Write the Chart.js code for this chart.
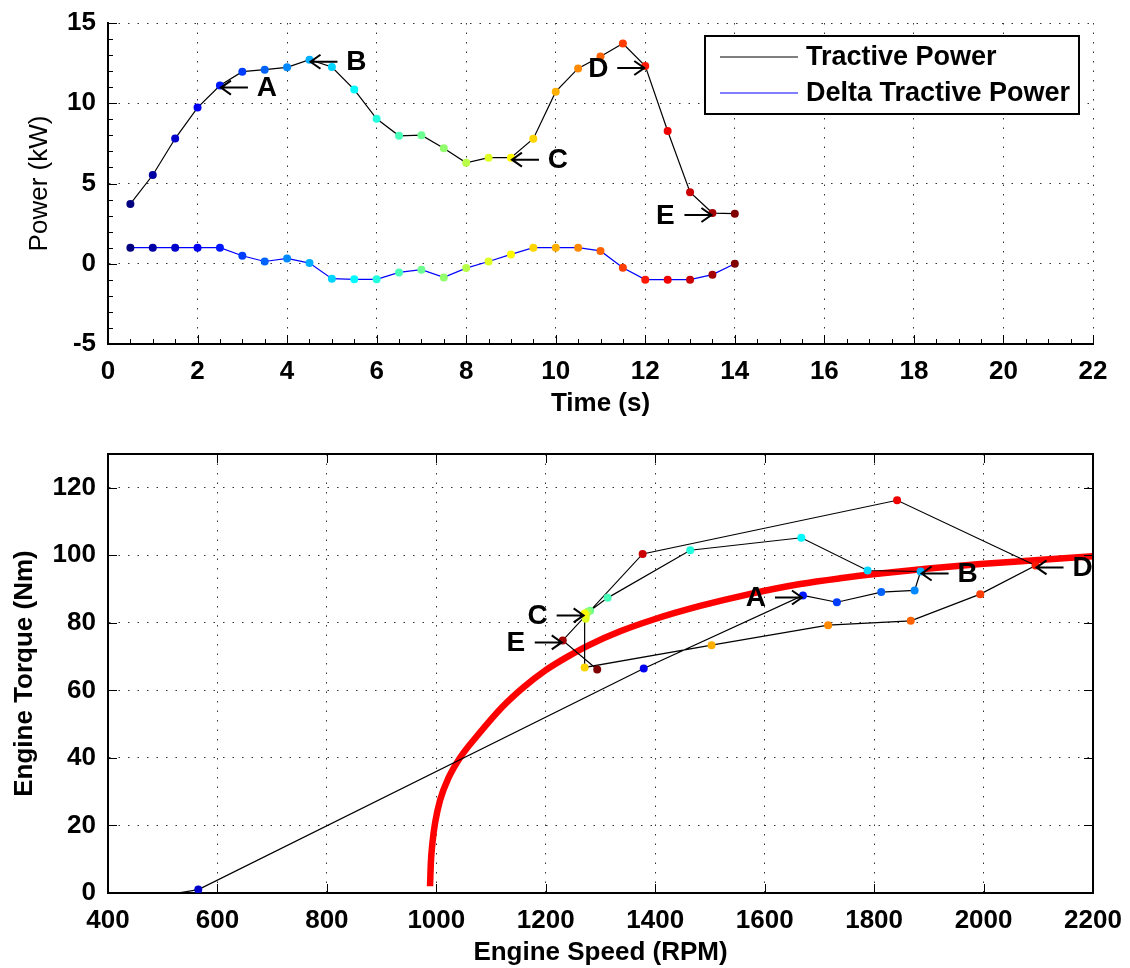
<!DOCTYPE html>
<html>
<head>
<meta charset="utf-8">
<title>Tractive power and engine operating points</title>
<script src="https://cdn.jsdelivr.net/npm/chart.js@4.4.1/dist/chart.umd.min.js"></script>
<style>
  body { margin: 0; background: #fff; }
  canvas { position: absolute; left: 0; }
  #powerChart { top: 0; }
  #engineChart { top: 430px; }
</style>
</head>
<body>
<canvas id="powerChart" width="1130" height="430"></canvas>
<canvas id="engineChart" width="1130" height="538"></canvas>
<script>
// top plot: power over time
const timeS = [0.5, 1, 1.5, 2, 2.5, 3, 3.5, 4, 4.5, 5, 5.5, 6, 6.5, 7, 7.5, 8, 8.5, 9, 9.5, 10, 10.5, 11, 11.5, 12, 12.5, 13, 13.5, 14];
const tractivePower = [3.73, 5.53, 7.8, 9.73, 11.1, 11.97, 12.09, 12.24, 12.71, 12.26, 10.85, 9.03, 7.97, 8.01, 7.2, 6.29, 6.61, 6.61, 7.79, 10.72, 12.17, 12.91, 13.72, 12.32, 8.27, 4.46, 3.16, 3.12];
const deltaTractivePower = [1.0, 1.0, 1.0, 1.0, 1.0, 0.5, 0.14, 0.33, 0.04, -0.93, -0.97, -0.97, -0.54, -0.37, -0.85, -0.27, 0.14, 0.58, 1.0, 1.0, 1.0, 0.8, -0.25, -0.99, -0.99, -0.99, -0.68, 0.0];
const timeTicks = [0, 2, 4, 6, 8, 10, 12, 14, 16, 18, 20, 22];
const powerTicks = [-5, 0, 5, 10, 15];

// bottom plot: engine operating points (same time order) and the red operating line
// first two points sit below the visible range
const engineSpeed = [0, 300, 565, 1379, 1670, 1732, 1813, 1874, 1885, 1788, 1667, 1464, 1313, 1281, 1277, 1274, 1273, 1271, 1271, 1503, 1716, 1867, 1994, 2095, 1842, 1377, 1231, 1294];
const engineTorque = [-14, -6.2, 1, 66.5, 88.1, 86.1, 89.1, 89.6, 95.2, 95.5, 105.2, 101.5, 87.4, 83.6, 83.3, 82.5, 81.2, 82.8, 66.8, 73.4, 79.3, 80.6, 88.5, 97, 116.3, 100.4, 74.8, 66.2];
const lineSpeed = [988.5, 990, 993, 998, 1007, 1022, 1043, 1077, 1120, 1160, 1200, 1240, 1280, 1336, 1397, 1482, 1574, 1665, 1738, 1811, 1900, 1994, 2100, 2200];
const lineTorque = [2, 9, 15, 21, 27.6, 34, 40, 47, 55, 61, 66, 70, 73.5, 77.5, 81, 85, 88.6, 91.5, 93.2, 94.6, 96.1, 97.4, 98.6, 99.7];
const speedTicks = [400, 600, 800, 1000, 1200, 1400, 1600, 1800, 2000, 2200];
const torqueTicks = [0, 20, 40, 60, 80, 100, 120];

// labelled instants (index into the series) and which side the letter sits on
const topNotes = [
  { text: 'A', index: 4, side: 'right' },
  { text: 'B', index: 8, side: 'right' },
  { text: 'C', index: 17, side: 'right' },
  { text: 'D', index: 23, side: 'left' },
  { text: 'E', index: 26, side: 'left' }
];
const bottomNotes = [
  { text: 'A', index: 4, side: 'left' },
  { text: 'B', index: 8, side: 'right' },
  { text: 'C', index: 17, side: 'left' },
  { text: 'D', index: 23, side: 'right' },
  { text: 'E', index: 26, side: 'left' }
];

const FONT = '"Liberation Sans", Arial, Helvetica, sans-serif';
Chart.defaults.font.family = FONT;
Chart.defaults.color = '#000';

function jet(v) {
  const c = x => Math.round(255 * Math.max(0, Math.min(1, x)));
  return `rgb(${c(1.5 - Math.abs(4 * v - 3))},${c(1.5 - Math.abs(4 * v - 2))},${c(1.5 - Math.abs(4 * v - 1))})`;
}
const pointColors = timeS.map((t, i) => jet(i / (timeS.length - 1)));

function setTicks(values) {
  return s => { s.ticks = values.map(v => ({ value: v })); };
}

function drawNote(ctx, px, py, letter, side) {
  const dir = side === 'right' ? 1 : -1;
  const y = py + 2;
  const tip = px + dir;
  ctx.save();
  ctx.strokeStyle = '#000';
  ctx.lineWidth = 2;
  ctx.beginPath();
  ctx.moveTo(px + dir * 28, y);
  ctx.lineTo(tip, y);
  ctx.moveTo(tip + dir * 10, y - 7);
  ctx.lineTo(tip, y);
  ctx.lineTo(tip + dir * 10, y + 7);
  ctx.stroke();
  ctx.fillStyle = '#000';
  ctx.font = 'bold 28px ' + FONT;
  ctx.textAlign = 'center';
  ctx.textBaseline = 'middle';
  ctx.fillText(letter, px + dir * 47, y + 1);
  ctx.restore();
}

const decor = {
  id: 'decor',
  afterDraw(chart, args, opts) {
    const { ctx, chartArea: a, scales } = chart;
    const xs = scales.x, ys = scales.y;
    ctx.save();
    ctx.strokeStyle = '#000';
    ctx.lineWidth = 1;
    // inward tick marks
    ctx.beginPath();
    xs.ticks.forEach((t, i) => {
      const x = Math.round(xs.getPixelForValue(t.value)) + 0.5;
      ctx.moveTo(x, a.bottom); ctx.lineTo(x, a.bottom - 9);
      if (opts.box) { ctx.moveTo(x, a.top); ctx.lineTo(x, a.top + 9); }
      if (opts.minorX && i < xs.ticks.length - 1) {
        const step = (xs.ticks[i + 1].value - t.value) / opts.minorX;
        for (let k = 1; k < opts.minorX; k++) {
          const mx = Math.round(xs.getPixelForValue(t.value + k * step)) + 0.5;
          ctx.moveTo(mx, a.bottom); ctx.lineTo(mx, a.bottom - 5);
        }
      }
    });
    ys.ticks.forEach((t, i) => {
      const y = Math.round(ys.getPixelForValue(t.value)) + 0.5;
      ctx.moveTo(a.left, y); ctx.lineTo(a.left + 9, y);
      if (opts.box) { ctx.moveTo(a.right, y); ctx.lineTo(a.right - 9, y); }
      if (opts.minorY && i < ys.ticks.length - 1) {
        const step = (ys.ticks[i + 1].value - t.value) / opts.minorY;
        for (let k = 1; k < opts.minorY; k++) {
          const my = Math.round(ys.getPixelForValue(t.value + k * step)) + 0.5;
          ctx.moveTo(a.left, my); ctx.lineTo(a.left + 5, my);
        }
      }
    });
    ctx.stroke();
    if (opts.box) {
      ctx.lineWidth = 2;
      ctx.beginPath();
      ctx.moveTo(a.left, a.top); ctx.lineTo(a.right, a.top); ctx.lineTo(a.right, a.bottom);
      ctx.stroke();
    }
    ctx.restore();

    const ds = chart.data.datasets[0].data;
    opts.notes.forEach(n => {
      const p = ds[n.index];
      drawNote(ctx, xs.getPixelForValue(p.x), ys.getPixelForValue(p.y), n.text, n.side);
    });

    if (opts.legend) {
      const bx = 705, by = 36, bw = 374, bh = 78;
      ctx.save();
      ctx.fillStyle = '#fff';
      ctx.fillRect(bx, by, bw, bh);
      ctx.strokeStyle = '#000';
      ctx.lineWidth = 2;
      ctx.strokeRect(bx, by, bw, bh);
      ctx.font = 'bold 27px ' + FONT;
      ctx.textBaseline = 'middle';
      ctx.fillStyle = '#000';
      chart.data.datasets.forEach((d, i) => {
        const y = by + 21 + i * 36;
        ctx.strokeStyle = d.borderColor;
        ctx.lineWidth = 1.2;
        ctx.beginPath();
        ctx.moveTo(720, y); ctx.lineTo(798, y);
        ctx.stroke();
        ctx.fillText(d.label, 806, y + 1);
      });
      ctx.restore();
    }
  }
};

function axis(min, max, ticks, title, titleFont, titlePad, extra) {
  return Object.assign({
    type: 'linear',
    min: min,
    max: max,
    afterBuildTicks: setTicks(ticks),
    grid: { color: '#333', lineWidth: 1, drawTicks: false },
    border: { color: '#000', width: 2, dash: [1.5, 8] },
    ticks: { padding: 12, autoSkip: false, maxRotation: 0, color: '#000', font: { size: 26, weight: 'bold' }, callback: v => String(v) },
    title: { display: true, text: title, color: '#000', font: titleFont, padding: titlePad }
  }, extra);
}

function fitX(h) {
  return s => { s.height = h; s.paddingLeft = 0; s.paddingRight = 0; };
}
function fitY(w) {
  return s => { s.width = w; s.paddingTop = 0; s.paddingBottom = 0; };
}

const pointStyle = {
  pointRadius: 4,
  pointHoverRadius: 4,
  pointBorderWidth: 0,
  pointBackgroundColor: pointColors
};

new Chart(document.getElementById('powerChart'), {
  type: 'line',
  data: {
    datasets: [
      Object.assign({
        label: 'Tractive Power',
        data: timeS.map((t, i) => ({ x: t, y: tractivePower[i] })),
        borderColor: '#000',
        borderWidth: 1.2
      }, pointStyle),
      Object.assign({
        label: 'Delta Tractive Power',
        data: timeS.map((t, i) => ({ x: t, y: deltaTractivePower[i] })),
        borderColor: '#0000ff',
        borderWidth: 1.2
      }, pointStyle)
    ]
  },
  options: {
    responsive: false,
    animation: false,
    layout: { padding: { top: 23, right: 37, left: 0, bottom: 0 } },
    plugins: {
      legend: { display: false },
      tooltip: { enabled: false },
      decor: { box: false, legend: true, notes: topNotes, minorX: 4, minorY: 5 }
    },
    scales: {
      x: axis(0, 22, timeTicks, 'Time (s)', { size: 26, weight: 'bold' }, { top: 0, bottom: 11 },
        { afterFit: fitX(86) }),
      y: axis(-5, 15, powerTicks, 'Power (kW)', { size: 26, weight: 'normal' }, { top: 24, bottom: 0 },
        { afterFit: fitY(108) })
    }
  },
  plugins: [decor]
});

new Chart(document.getElementById('engineChart'), {
  type: 'line',
  data: {
    datasets: [
      Object.assign({
        label: 'Operating points',
        data: engineSpeed.map((s, i) => ({ x: s, y: engineTorque[i] })),
        borderColor: '#000',
        borderWidth: 1.2,
        order: 1
      }, pointStyle),
      {
        label: 'Operating line',
        data: lineSpeed.map((s, i) => ({ x: s, y: lineTorque[i] })),
        borderColor: '#ff0000',
        borderWidth: 6.5,
        pointRadius: 0,
        cubicInterpolationMode: 'monotone',
        order: 2
      }
    ]
  },
  options: {
    responsive: false,
    animation: false,
    layout: { padding: { top: 24, right: 37, left: 0, bottom: 0 } },
    plugins: {
      legend: { display: false },
      tooltip: { enabled: false },
      decor: { box: true, legend: false, notes: bottomNotes }
    },
    scales: {
      x: axis(400, 2200, speedTicks, 'Engine Speed (RPM)', { size: 26, weight: 'bold' }, { top: 0, bottom: 0 },
        { afterFit: fitX(75) }),
      y: axis(0, 130, torqueTicks, 'Engine Torque (Nm)', { size: 26, weight: 'bold' }, { top: 9, bottom: 0 },
        { afterFit: fitY(108) })
    }
  },
  plugins: [decor]
});
</script>
</body>
</html>
